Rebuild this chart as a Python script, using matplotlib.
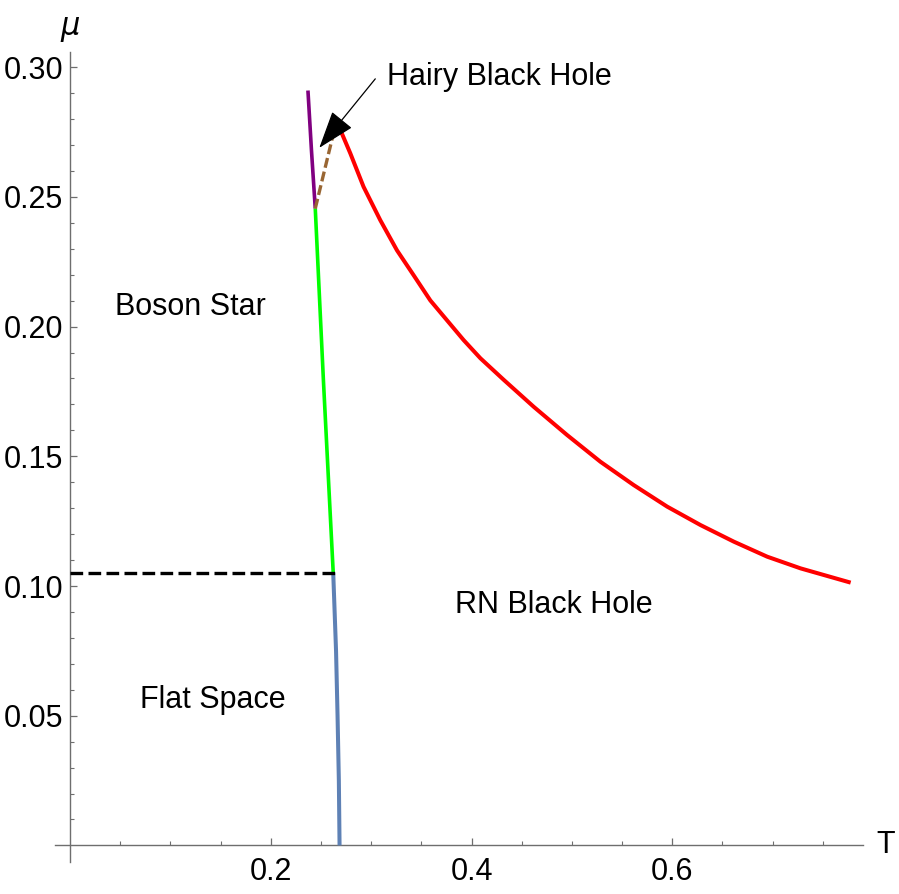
import matplotlib
matplotlib.use("Agg")
import matplotlib.pyplot as plt
import numpy as np
from matplotlib.ticker import FixedLocator, FixedFormatter

plt.rcParams['font.family'] = ['Liberation Sans', 'DejaVu Sans']

# ---- data ----
rn_T = [0.2662, 0.2692, 0.2792, 0.2924, 0.3091, 0.3257, 0.3423, 0.3589, 0.3756,
        0.3921, 0.4088, 0.4320, 0.4619, 0.4952, 0.5284, 0.5616, 0.5949, 0.6281,
        0.6613, 0.6946, 0.7278, 0.7777]
rn_mu = [0.2778, 0.2759, 0.2668, 0.2539, 0.2410, 0.2294, 0.2198, 0.2101, 0.2024,
         0.1948, 0.1878, 0.1795, 0.1691, 0.1582, 0.1479, 0.1389, 0.1306, 0.1235,
         0.1171, 0.1113, 0.1068, 0.1013]

purple_T = [0.237, 0.2405, 0.2443]
purple_mu = [0.291, 0.268, 0.2455]

green_T = [0.2443, 0.2524, 0.2622]
green_mu = [0.2455, 0.1794, 0.105]

blue_T = [0.2622, 0.2650, 0.2665, 0.2678, 0.2685]
blue_mu = [0.105, 0.075, 0.050, 0.025, 0.0]

flat_T = [0.0, 0.265]
flat_mu = [0.105, 0.105]

hairy_T = [0.2443, 0.264]
hairy_mu = [0.2455, 0.277]

x_major = [0.2, 0.4, 0.6]
x_major_labels = ["0.2", "0.4", "0.6"]
x_minor = [0.05, 0.10, 0.15, 0.25, 0.30, 0.35, 0.45, 0.50, 0.55, 0.65, 0.70, 0.75]
y_major = [0.05, 0.10, 0.15, 0.20, 0.25, 0.30]
y_major_labels = ["0.05", "0.10", "0.15", "0.20", "0.25", "0.30"]
y_minor = [round(0.01 * i, 2) for i in range(1, 31) if i % 5 != 0]

region_labels = ["Boson Star", "Flat Space", "RN Black Hole"]
region_T = [0.12, 0.1426, 0.4816]
region_mu = [0.2076, 0.056, 0.0927]

hairy_label = "Hairy Black Hole"
hairy_label_pos = (0.316, 0.2962)
arrow_tail = (0.3041, 0.2955)
arrow_tip = (0.2483, 0.2689)

FS = 22

# ---- figure ----
fig = plt.figure(figsize=(8.99, 8.94), dpi=100)
ax = fig.add_axes([55/899, (894-862.3)/894, 808/899, (862.3-51.6)/894])
ax.set_xlim(-0.015, 0.79)
ax.set_ylim(-0.0065, 0.306)

lw = 2.9
ax.plot(rn_T, rn_mu, color='#ff0000', lw=lw, solid_capstyle='butt',
        solid_joinstyle='round', zorder=3)
ax.plot(purple_T, purple_mu, color='#800080', lw=lw*0.9, solid_capstyle='butt', zorder=3)
ax.plot(green_T, green_mu, color='#00ff00', lw=lw*0.9, solid_capstyle='butt', zorder=3)
ax.plot(blue_T, blue_mu, color='#5e81b5', lw=lw, solid_capstyle='butt', zorder=3)
ax.plot(flat_T, flat_mu, color='black', lw=2.4, ls=(0, (3.8, 1.6)), zorder=4)
ax.plot(hairy_T, hairy_mu, color='#996633', lw=2.4, ls=(0, (3.0, 1.2)), zorder=4)

for s, t, m in zip(region_labels, region_T, region_mu):
    ax.text(t, m, s, fontsize=FS, ha='center', va='center')

ax.text(hairy_label_pos[0], hairy_label_pos[1], hairy_label, fontsize=FS,
        ha='left', va='center')
ax.annotate("", xy=arrow_tip, xytext=arrow_tail,
            arrowprops=dict(arrowstyle='-|>,head_length=1.6,head_width=0.55',
                            mutation_scale=15, color='black', lw=0.9,
                            shrinkA=0, shrinkB=0),
            zorder=6)

# axes styling (Mathematica-like axes through origin)
for side in ['top', 'right']:
    ax.spines[side].set_visible(False)
axcol = '#6e6e6e'
ax.spines['left'].set_position(('data', 0))
ax.spines['bottom'].set_position(('data', 0))
for side in ['left', 'bottom']:
    ax.spines[side].set_color(axcol)
    ax.spines[side].set_linewidth(1.0)

ax.xaxis.set_major_locator(FixedLocator(x_major))
ax.xaxis.set_major_formatter(FixedFormatter(x_major_labels))
ax.xaxis.set_minor_locator(FixedLocator(x_minor))
ax.yaxis.set_major_locator(FixedLocator(y_major))
ax.yaxis.set_major_formatter(FixedFormatter(y_major_labels))
ax.yaxis.set_minor_locator(FixedLocator(y_minor))

ax.tick_params(which='major', direction='in', length=5, width=0.9, color=axcol,
               labelsize=FS, labelcolor='black')
ax.tick_params(which='minor', direction='in', length=3, width=0.8, color=axcol)
ax.tick_params(axis='x', which='major', pad=8)
ax.tick_params(axis='y', which='major', pad=5)

fig.text(70/899, 1 - 29/894, r"$\mu$", fontsize=FS, ha='center', va='center',
         family=['DejaVu Sans'])
fig.text(886/899, 1 - 845/894, "T", fontsize=FS, ha='center', va='center')

fig.savefig("out.png", dpi=100)
